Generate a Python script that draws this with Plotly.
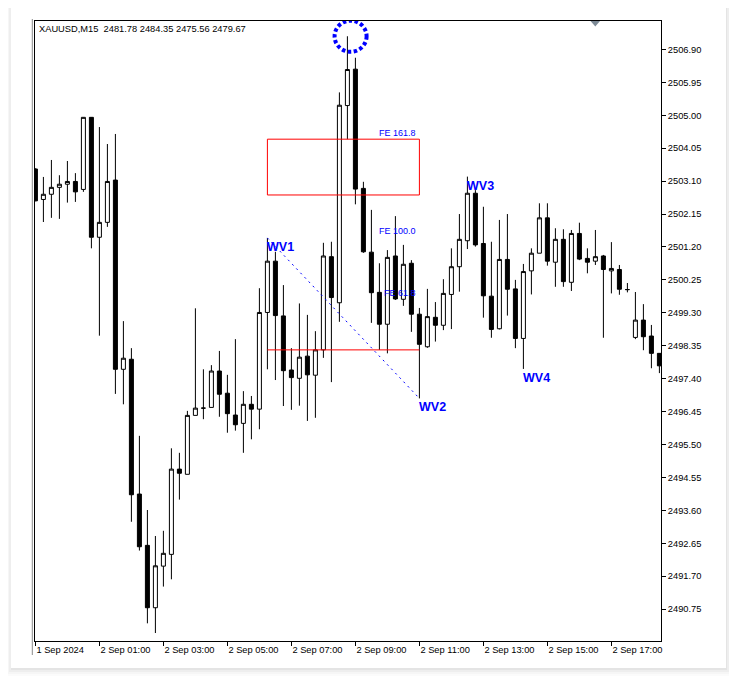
import plotly.graph_objects as go

# ---------------- data ----------------
bars = list(range(79))
opens = [2503.45, 2502.57, 2502.72, 2502.92, 2503.01, 2503.09, 2502.86, 2504.94, 2501.48, 2501.91,
         2503.13, 2497.67, 2497.96, 2494.07, 2492.59, 2490.79, 2491.99, 2492.33, 2494.79, 2494.64,
         2496.34, 2496.55, 2496.57, 2497.62, 2496.98, 2496.35, 2496.11, 2496.66, 2496.52, 2499.31,
         2500.79, 2499.21, 2497.65, 2497.41, 2498.05, 2497.50, 2498.23, 2500.92, 2499.59, 2505.28,
         2506.33, 2502.89, 2501.05, 2499.89, 2498.97, 2500.94, 2499.69, 2500.73, 2499.26, 2498.32,
         2499.17, 2498.94, 2499.83, 2500.63, 2501.38, 2502.75, 2501.30, 2499.78, 2498.84, 2500.84,
         2499.99, 2498.56, 2500.51, 2501.02, 2502.04, 2500.76, 2501.42, 2500.18, 2501.59, 2500.87,
         2500.79, 2500.94, 2500.51, 2500.55, 2499.97, 2498.59, 2499.09, 2498.63, 2498.13]
highs = [2503.47, 2503.22, 2503.71, 2503.27, 2503.68, 2503.33, 2504.95, 2504.95, 2504.66, 2504.17,
         2504.46, 2499.06, 2498.28, 2495.75, 2493.61, 2492.86, 2493.01, 2495.39, 2495.26, 2496.47,
         2499.43, 2497.67, 2497.79, 2498.20, 2497.51, 2498.54, 2497.04, 2496.90, 2500.01, 2501.46,
         2501.06, 2500.10, 2498.28, 2499.57, 2499.24, 2498.77, 2501.32, 2501.35, 2505.66, 2507.28,
         2506.66, 2503.08, 2502.27, 2500.73, 2501.11, 2502.09, 2501.26, 2500.82, 2499.44, 2499.99,
         2499.61, 2500.27, 2501.16, 2502.15, 2503.23, 2502.84, 2502.36, 2501.35, 2501.98, 2502.15,
         2500.25, 2500.71, 2501.16, 2502.46, 2502.46, 2501.74, 2501.71, 2501.69, 2501.90, 2501.16,
         2501.69, 2500.97, 2501.34, 2500.68, 2500.16, 2499.90, 2499.55, 2498.95, 2498.14]
lows = [2502.52, 2501.92, 2502.04, 2502.01, 2502.48, 2502.50, 2502.79, 2501.16, 2498.64, 2501.78,
        2496.96, 2496.66, 2493.27, 2492.44, 2490.34, 2490.06, 2491.40, 2491.61, 2493.91, 2494.64,
        2496.34, 2496.23, 2496.57, 2496.30, 2495.84, 2495.90, 2495.26, 2495.65, 2495.94, 2497.67,
        2497.36, 2496.61, 2496.50, 2496.62, 2496.18, 2496.27, 2498.00, 2497.30, 2499.04, 2504.31,
        2502.43, 2501.03, 2499.01, 2498.23, 2498.13, 2499.67, 2499.50, 2498.75, 2496.83, 2498.29,
        2498.47, 2498.80, 2498.83, 2499.91, 2501.14, 2501.21, 2499.16, 2498.58, 2498.82, 2499.22,
        2498.28, 2497.68, 2499.83, 2501.02, 2500.66, 2500.05, 2500.05, 2499.93, 2500.82, 2500.44,
        2500.68, 2498.58, 2499.86, 2499.82, 2499.89, 2498.54, 2498.22, 2497.70, 2497.56]
closes = [2502.53, 2502.72, 2502.92, 2503.01, 2503.09, 2502.79, 2504.94, 2501.48, 2501.91, 2503.09,
          2497.67, 2497.99, 2494.05, 2492.55, 2490.79, 2492.00, 2492.36, 2494.79, 2494.67, 2496.34,
          2496.55, 2496.55, 2497.62, 2496.95, 2496.39, 2496.07, 2496.66, 2496.52, 2499.31, 2500.79,
          2499.22, 2497.63, 2497.43, 2498.02, 2497.51, 2498.23, 2500.94, 2499.74, 2505.29, 2506.32,
          2502.87, 2501.06, 2499.88, 2498.97, 2500.90, 2499.70, 2500.70, 2499.26, 2498.39, 2499.19,
          2498.94, 2499.86, 2500.63, 2501.42, 2502.75, 2501.26, 2499.79, 2498.82, 2500.84, 2499.98,
          2498.56, 2500.49, 2501.02, 2502.04, 2500.79, 2501.42, 2500.20, 2501.59, 2500.85, 2500.76,
          2500.92, 2500.55, 2500.58, 2499.98, 2499.97, 2499.09, 2498.61, 2498.13, 2497.77]

x_tick_bars = [0, 8, 16, 24, 32, 40, 48, 56, 64, 72]
x_tick_labels = ["1 Sep 2024", "2 Sep 01:00", "2 Sep 03:00", "2 Sep 05:00", "2 Sep 07:00",
                 "2 Sep 09:00", "2 Sep 11:00", "2 Sep 13:00", "2 Sep 15:00", "2 Sep 17:00"]
y_tick_values = [2490.75, 2491.70, 2492.65, 2493.60, 2494.55, 2495.50, 2496.45, 2497.40,
                 2498.35, 2499.30, 2500.25, 2501.20, 2502.15, 2503.10, 2504.05, 2505.00,
                 2505.95, 2506.90]

wave_names = ["WV1", "WV2", "WV3", "WV4"]
wave_bars = [29, 48, 54, 61]
wave_at_high = [True, False, True, False]

fe_names = ["FE 161.8", "FE 100.0", "FE 61.8"]
fe_levels = [2504.31, 2501.49, 2499.70]
fe_bar = 48
zone_top, zone_bottom = 2504.31, 2502.70
zone_start, zone_end = 29, 48
red_level = 2498.23
circle_bar = 39.4

title_text = "XAUUSD,M15  2481.78 2484.35 2475.56 2479.67"

# ---------------- layout helpers ----------------
OFF = 8                      # default page body margin
W, H = 737 - OFF, 684 - OFF  # figure size
ML, MR, MT, MB = 35 - OFF, 76, 21 - OFF, 43
PW, PH = W - ML - MR, H - MT - MB


def pxx(px):
    """window pixel x -> paper fraction"""
    return (px - OFF - ML) / PW


def pxy(py):
    """window pixel y -> paper fraction"""
    return (H - MB - (py - OFF)) / PH


FONT = "Liberation Sans, Arial, sans-serif"
BLUE = "#0000ff"

fig = go.Figure()
fig.add_trace(go.Candlestick(
    x=bars, open=opens, high=highs, low=lows, close=closes,
    increasing=dict(line=dict(color="black", width=1), fillcolor="white"),
    decreasing=dict(line=dict(color="black", width=1), fillcolor="black"),
    whiskerwidth=0, showlegend=False, hoverinfo="skip"))

# dotted wave line WV1 -> WV2
fig.add_trace(go.Scatter(
    x=[wave_bars[0], wave_bars[1]], y=[highs[wave_bars[0]], lows[wave_bars[1]]],
    mode="lines", line=dict(color=BLUE, width=1, dash="2px,4px"),
    showlegend=False, hoverinfo="skip"))

shapes = []
# card shadow and card
for grow, alpha in [(7, 0.015), (5, 0.02), (3, 0.03), (1, 0.04)]:
    shapes.append(dict(type="rect", xref="paper", yref="paper", layer="below",
                       x0=pxx(11 - grow + 1), x1=pxx(726 + grow), y0=pxy(7 - grow + 2), y1=pxy(668 + grow + 1),
                       line=dict(width=0), fillcolor=f"rgba(0,0,0,{alpha})"))
shapes.append(dict(type="rect", xref="paper", yref="paper", layer="below",
                   x0=pxx(11), x1=pxx(726), y0=pxy(7), y1=pxy(668),
                   line=dict(width=0), fillcolor="white"))
# left grey window border line
shapes.append(dict(type="line", xref="paper", yref="paper",
                   x0=pxx(32.3), x1=pxx(32.3), y0=pxy(19), y1=pxy(655),
                   line=dict(color="#8a8a8a", width=1)))
# grey shift triangle
shapes.append(dict(type="path", xref="paper", yref="paper",
                   path=f"M {pxx(590.5)},{pxy(21)} L {pxx(600)},{pxy(21)} L {pxx(595.3)},{pxy(26.5)} Z",
                   fillcolor="#7d8a96", line=dict(width=0)))
# FE 161.8 zone
shapes.append(dict(type="rect", xref="x", yref="y", x0=zone_start, x1=zone_end,
                   y0=zone_bottom, y1=zone_top, line=dict(color="#ff0000", width=1),
                   fillcolor="rgba(0,0,0,0)"))
# red level line
shapes.append(dict(type="line", xref="x", yref="y", x0=zone_start, x1=zone_end,
                   y0=red_level, y1=red_level, line=dict(color="#ff0000", width=1)))
# dashed circle at the top
shapes.append(dict(type="circle", xref="x", yref="y",
                   x0=circle_bar - 2.0, x1=circle_bar + 2.0,
                   y0=highs[39] - 0.45, y1=highs[39] + 0.45,
                   line=dict(color=BLUE, width=4, dash="3.5px,2.5px")))

annotations = []
annotations.append(dict(xref="paper", yref="paper", x=0, y=1, xanchor="left", yanchor="top",
                        xshift=2, yshift=-1, showarrow=False, text=title_text,
                        font=dict(family=FONT, size=9.3, color="black")))
for name, b, hi in zip(wave_names, wave_bars, wave_at_high):
    annotations.append(dict(x=b, y=highs[b] if hi else lows[b], xref="x", yref="y",
                            xanchor="left", yanchor="top", xshift=-2, showarrow=False,
                            text=f"<b>{name}</b>",
                            font=dict(family=FONT, size=12.5, color=BLUE)))
for name, lvl in zip(fe_names, fe_levels):
    annotations.append(dict(x=fe_bar, y=lvl, xref="x", yref="y", xanchor="right", yanchor="bottom",
                            xshift=-1, yshift=-1, showarrow=False, text=name,
                            font=dict(family=FONT, size=9, color=BLUE)))

tickfont = dict(family=FONT, size=9.3, color="black")
fig.update_layout(
    width=W, height=H,
    margin=dict(l=ML, r=MR, t=MT, b=MB),
    paper_bgcolor="white", plot_bgcolor="white",
    boxgap=0.2, boxgroupgap=0.375,
    shapes=shapes, annotations=annotations,
    showlegend=False,
    xaxis=dict(range=[-0.05, 78.2], rangeslider=dict(visible=False),
               showgrid=False, zeroline=False, showline=True, linecolor="black", linewidth=1,
               mirror=True, ticks="outside", ticklen=4, tickcolor="black", tickwidth=1,
               tickvals=x_tick_bars, ticktext=x_tick_labels, ticklabelposition="outside right",
               tickfont=tickfont),
    yaxis=dict(range=[2489.83, 2507.72], side="right",
               showgrid=False, zeroline=False, showline=True, linecolor="black", linewidth=1,
               mirror=True, ticks="outside", ticklen=4, tickcolor="black", tickwidth=1,
               tickvals=y_tick_values, ticktext=[f"{v:.2f}" for v in y_tick_values],
               tickfont=tickfont),
)

fig.write_html("out.html")
